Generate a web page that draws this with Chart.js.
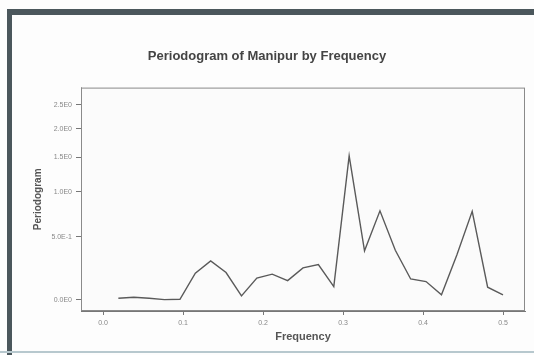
<!DOCTYPE html>
<html>
<head>
<meta charset="utf-8">
<script src="https://cdn.jsdelivr.net/npm/chart.js@4/dist/chart.umd.min.js"></script>
<style>
  html, body { margin: 0; padding: 0; background: #fff; }
  #wrap { position: relative; width: 534px; height: 355px; overflow: hidden; background: #fdfdfd; }
  #frame { position: absolute; left: 7px; top: 9px; width: 600px; height: 400px;
           border-top: 6px solid #4b575c; border-left: 5px solid #4b575c; }
  #foot { position: absolute; left: 0; top: 351px; width: 534px; height: 2px; background: #b7c8ce; }
  canvas { position: absolute; left: 0; top: 0; }
</style>
</head>
<body>
<div id="wrap">
  <div id="frame"></div>
  <div id="foot"></div>
  <canvas id="c" width="534" height="355"></canvas>
</div>
<script>
// Periodogram ordinates at the Fourier frequencies k/52
const frequency = [0.0192, 0.0385, 0.0577, 0.0769, 0.0962, 0.1154, 0.1346, 0.1538, 0.1731,
                   0.1923, 0.2115, 0.2308, 0.2500, 0.2692, 0.2885, 0.3077, 0.3269, 0.3462,
                   0.3654, 0.3846, 0.4038, 0.4231, 0.4423, 0.4615, 0.4808, 0.5000];
const periodogram = [0.011, 0.017, 0.011, 0.002, 0.004, 0.187, 0.285, 0.192, 0.026,
                     0.150, 0.180, 0.132, 0.228, 0.255, 0.089, 1.520, 0.370, 0.771,
                     0.375, 0.144, 0.125, 0.033, 0.335, 0.765, 0.085, 0.033];

const xTickValues = [0.0, 0.1, 0.2, 0.3, 0.4, 0.5];
const xTickLabels = ['0.0', '0.1', '0.2', '0.3', '0.4', '0.5'];
const yTickValues = [0, 0.5, 1.0, 1.5, 2.0, 2.5];
const yTickLabels = ['0.0E0', '5.0E-1', '1.0E0', '1.5E0', '2.0E0', '2.5E0'];

// vertical axis uses a "safe log" transform: position = ln(1 + value)
const safeLog = v => Math.log1p(v);

const points = frequency.map((f, i) => ({ x: f, y: safeLog(periodogram[i]) }));

const plotBox = {
  id: 'plotBox',
  beforeDatasetsDraw(chart) {
    const { ctx, chartArea: a } = chart;
    ctx.save();
    ctx.fillStyle = '#fbfbfb';
    ctx.fillRect(a.left, a.top, a.right - a.left, a.bottom - a.top);
    ctx.strokeStyle = '#8a8a8a';
    ctx.lineWidth = 1;
    ctx.strokeRect(a.left + 0.5, a.top + 0.5, a.right - a.left - 1, a.bottom - a.top - 1);
    ctx.restore();
  }
};

const tickFont = { family: 'Liberation Sans', size: 7 };

new Chart(document.getElementById('c'), {
  type: 'line',
  data: {
    datasets: [{
      data: points,
      borderColor: '#5a5a5a',
      borderWidth: 1.4,
      pointRadius: 0,
      tension: 0,
      fill: false
    }]
  },
  options: {
    responsive: false,
    animation: false,
    events: [],
    layout: { padding: 0 },
    plugins: {
      legend: { display: false },
      tooltip: { enabled: false },
      title: {
        display: true,
        text: 'Periodogram of Manipur by Frequency',
        color: '#444',
        font: { family: 'Liberation Sans', size: 13, weight: 'bold' },
        padding: { top: 49, bottom: 23 }
      }
    },
    scales: {
      x: {
        type: 'linear',
        min: -0.0275,
        max: 0.5275,
        afterBuildTicks: s => { s.ticks = xTickValues.map(v => ({ value: v })); },
        afterFit: s => { s.height = 44; },
        ticks: {
          color: '#888',
          font: tickFont,
          padding: 4,
          maxRotation: 0,
          callback: (v, i) => xTickLabels[i]
        },
        grid: { display: true, drawOnChartArea: false, drawTicks: true, tickLength: 4, color: '#777' },
        border: { display: true, color: '#777' },
        title: {
          display: true,
          text: 'Frequency',
          color: '#555',
          font: { family: 'Liberation Sans', size: 11, weight: 'bold' },
          padding: { top: 0, bottom: 11 }
        }
      },
      y: {
        type: 'linear',
        min: -0.071,
        max: 1.362,
        afterBuildTicks: s => { s.ticks = yTickValues.map(v => ({ value: safeLog(v) })); },
        afterFit: s => { s.width = 81; },
        ticks: {
          color: '#888',
          font: tickFont,
          padding: 4,
          callback: (v, i) => yTickLabels[i]
        },
        grid: { display: true, drawOnChartArea: false, drawTicks: true, tickLength: 5, color: '#777' },
        border: { display: true, color: '#777' },
        title: {
          display: true,
          text: 'Periodogram',
          color: '#555',
          font: { family: 'Liberation Sans', size: 10, weight: 'bold' },
          padding: { top: 32, bottom: 0 }
        }
      },
      // empty right-hand margin strip so the plot box ends short of the edge
      margin: {
        type: 'linear',
        position: 'right',
        display: true,
        afterFit: s => { s.width = 9; },
        ticks: { display: false },
        grid: { display: false },
        border: { display: false }
      }
    }
  },
  plugins: [plotBox]
});
</script>
</body>
</html>
